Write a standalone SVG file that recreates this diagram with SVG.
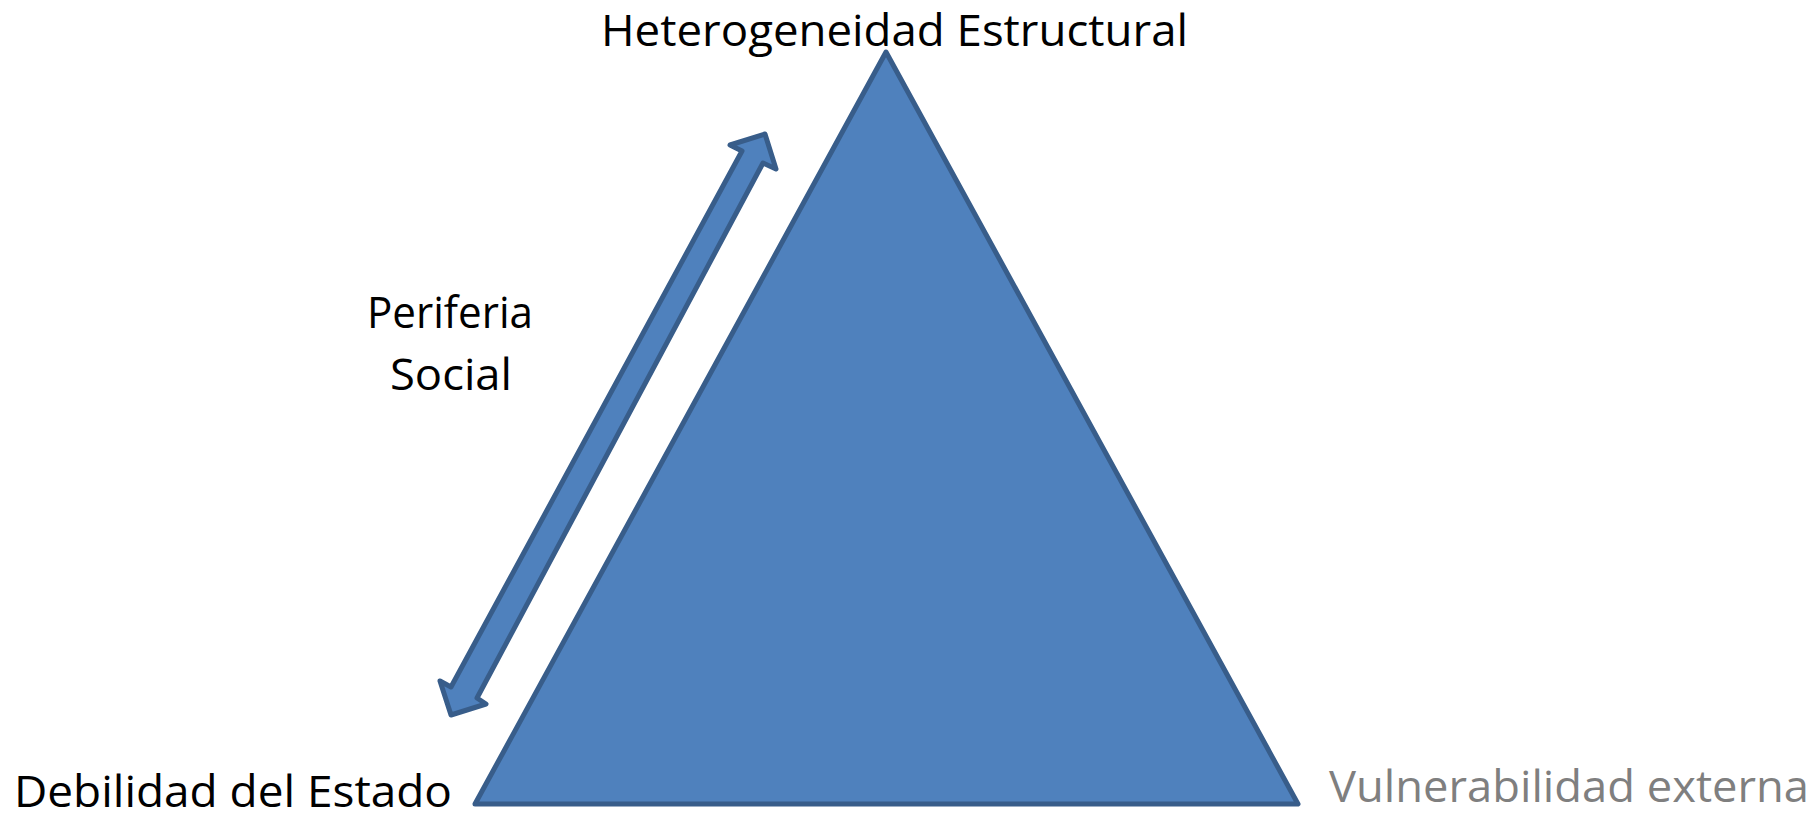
<svg xmlns="http://www.w3.org/2000/svg" width="1819" height="813" viewBox="0 0 1819 813">
<style>
.shape{fill:#4f81bd;stroke:#385d8a;stroke-width:5;stroke-linejoin:round}
.lbl{font-family:"Open Sans","Liberation Sans",sans-serif;font-size:44px;fill:#000}
.gray{fill:#7f7f7f}
</style>
<rect width="1819" height="813" fill="#fff"/>
<g id="triangle">
<polygon class="shape" points="886,52 1298,804 475,804"/>
</g>
<g id="connectors">
<polygon class="shape" points="765,134 776,169 763,163 477,698 486,704 451,715 440,681 451,687 742,151 730,145"/>
</g>
<g id="label-top">
<text class="lbl" x="601" y="46" textLength="587" lengthAdjust="spacingAndGlyphs">Heterogeneidad Estructural</text>
</g>
<g id="label-left">
<text class="lbl" x="14" y="807" textLength="438" lengthAdjust="spacingAndGlyphs">Debilidad del Estado</text>
</g>
<g id="label-right">
<text class="lbl gray" x="1329" y="802" textLength="480" lengthAdjust="spacingAndGlyphs">Vulnerabilidad externa</text>
</g>
<g id="label-periferia">
<text class="lbl" x="367" y="328" textLength="166" lengthAdjust="spacingAndGlyphs">Periferia</text>
<text class="lbl" x="390" y="390" textLength="122" lengthAdjust="spacingAndGlyphs">Social</text>
</g>
</svg>
